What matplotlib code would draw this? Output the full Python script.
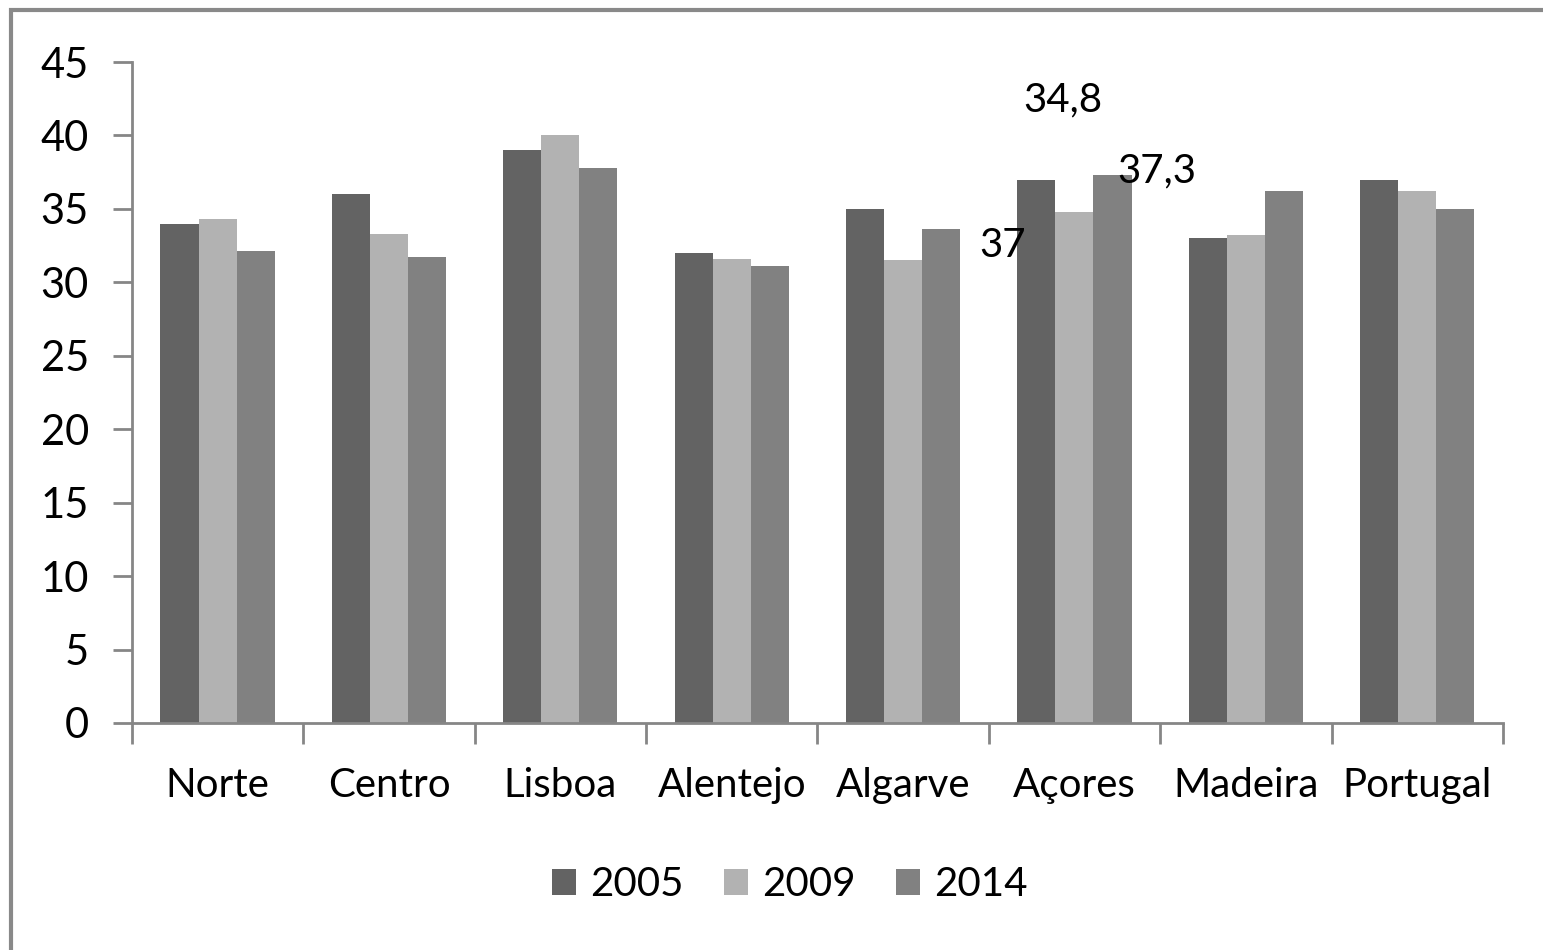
import numpy as np
import matplotlib.pyplot as plt
from matplotlib.patches import Rectangle

plt.rcParams['font.family'] = ['Lato', 'DejaVu Sans']

regions = ['Norte', 'Centro', 'Lisboa', 'Alentejo', 'Algarve', 'Açores', 'Madeira', 'Portugal']
years = ['2005', '2009', '2014']
v2005 = [34.0, 36.0, 39.0, 32.0, 35.0, 37.0, 33.0, 37.0]
v2009 = [34.3, 33.3, 40.0, 31.6, 31.5, 34.8, 33.2, 36.2]
v2014 = [32.1, 31.7, 37.8, 31.1, 33.6, 37.3, 36.2, 35.0]
colors = ['#636363', '#b2b2b2', '#818181']

# displaced data labels for Açores
labels_acores = ['37', '34,8', '37,3']

fig = plt.figure(figsize=(15.43, 9.5), dpi=100)
ax = fig.add_axes([0.0855, 0.239, 0.8885, 0.6957])

x = np.arange(len(regions))
w = 1 / 4.5
for i, vals in enumerate([v2005, v2009, v2014]):
    ax.bar(x + (i - 1) * w, vals, w, color=colors[i], label=years[i])

ax.set_xlim(-0.5, len(regions) - 0.5)
ax.set_ylim(0, 45)
ax.set_yticks(range(0, 46, 5))
ax.set_xticks(x)
ax.set_xticklabels(regions)
ax.set_xticks(np.arange(-0.5, len(regions)), minor=True)
ax.tick_params(axis='x', which='major', length=0, pad=32, labelsize=29)
ax.tick_params(axis='x', which='minor', length=15, width=2, color='#868686')
ax.tick_params(axis='y', length=14, width=2, color='#868686', pad=17, labelsize=30)

for s in ['top', 'right']:
    ax.spines[s].set_visible(False)
for s in ['left', 'bottom']:
    ax.spines[s].set_color('#868686')
    ax.spines[s].set_linewidth(2)

# data labels, placed as in the original
ax.text(4.58, 32.5, labels_acores[0], fontsize=29, ha='center', va='center')
ax.text(4.93, 42.4, labels_acores[1], fontsize=29, ha='center', va='center')
ax.text(5.48, 37.6, labels_acores[2], fontsize=29, ha='center', va='center')

fig.legend(loc='center', bbox_to_anchor=(0.512, 0.069), ncol=3, frameon=False,
           fontsize=29, handlelength=0.6, handleheight=0.6, handletextpad=0.35,
           columnspacing=1.0)

# outer chart frame
fig.patches.append(Rectangle((11 / 1543, -0.1), 1.2, 0.1 + (950 - 10) / 950,
                             transform=fig.transFigure, fill=False,
                             edgecolor='#898989', linewidth=3, clip_on=False))

fig.savefig('out.png', dpi=100)
